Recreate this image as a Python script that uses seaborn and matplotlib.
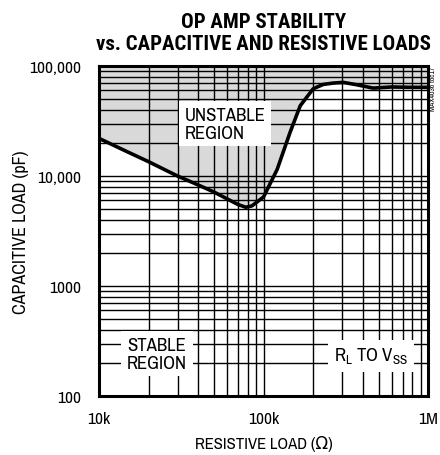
import matplotlib
matplotlib.use('Agg')
import matplotlib.pyplot as plt
import matplotlib.ticker as mticker
import pandas as pd
import seaborn as sns

# Данные
resistance = [10e3, 15e3, 20e3, 30e3, 40e3, 50e3, 60e3, 70e3, 78e3, 85e3, 100e3, 121e3,
              145e3, 167e3, 200e3, 230e3, 265e3, 305e3, 360e3, 463e3, 600e3, 800e3, 1e6]
capacitance = [22000, 16500, 13500, 10000, 8300, 7150, 6200, 5500, 5200, 5350, 6450, 11500,
               25000, 43500, 62000, 68000, 70000, 71000, 68000, 63000, 64500, 64000, 64000]
x_ticks = [1e4, 1e5, 1e6]
x_labels = ['10k', '100k', '1M']
y_ticks = [1e2, 1e3, 1e4, 1e5]
y_labels = ['100', '1000', '10,000', '100,000']

df = pd.DataFrame({'R': resistance, 'C': capacitance})

sns.set_style("white")
plt.rcParams['font.family'] = ['Archivo Narrow', 'DejaVu Sans']
plt.rcParams['text.color'] = 'black'
plt.rcParams['axes.labelcolor'] = 'black'
plt.rcParams['mathtext.fontset'] = 'custom'
plt.rcParams['mathtext.rm'] = 'Archivo Narrow'

fig = plt.figure(figsize=(4.4, 4.56), dpi=100)
ax = fig.add_axes([0.225, 0.1294, 0.748, 0.7236])

ax.fill_between(df['R'], df['C'], 1e5, color='#d9d9d9', zorder=1, linewidth=0)
sns.lineplot(data=df, x='R', y='C', color='black', linewidth=2.6, ax=ax, zorder=4)

ax.set_xscale('log')
ax.set_yscale('log')
ax.set_xlim(1e4, 1e6)
ax.set_ylim(1e2, 1e5)
ax.set_xticks(x_ticks)
ax.set_xticklabels(x_labels)
ax.set_yticks(y_ticks)
ax.set_yticklabels(y_labels)
ax.xaxis.set_minor_locator(mticker.LogLocator(base=10, subs=range(2, 10)))
ax.yaxis.set_minor_locator(mticker.LogLocator(base=10, subs=range(2, 10)))
ax.xaxis.set_minor_formatter(mticker.NullFormatter())
ax.yaxis.set_minor_formatter(mticker.NullFormatter())
ax.grid(True, which='both', color='black', linewidth=1.0, zorder=2)
ax.set_axisbelow(False)
ax.tick_params(which='both', length=0, labelsize=12.5, colors='black')
ax.tick_params(axis='y', pad=13)
ax.tick_params(axis='x', pad=11)
for s in ax.spines.values():
    s.set_linewidth(2.2)
    s.set_color('black')
    s.set_zorder(5)

ax.set_xlabel('RESISTIVE LOAD (Ω)', fontsize=12, labelpad=6)
ax.set_ylabel('CAPACITIVE LOAD (pF)', fontsize=13, labelpad=0)
ax.set_title('OP AMP STABILITY\nvs. CAPACITIVE AND RESISTIVE LOADS',
             fontsize=15, fontweight='bold', linespacing=1.2, pad=12,
             family=['Roboto Condensed', 'DejaVu Sans'])

box = dict(facecolor='white', edgecolor='none', pad=4)
ax.text(3.3e4, 3.0e4, 'UNSTABLE\nREGION', fontsize=13.5, ha='left', va='center',
        linespacing=1.15, bbox=box, zorder=3)
ax.text(2.25e4, 2.42e2, 'STABLE\nREGION', fontsize=13.5, ha='center', va='center',
        linespacing=1.15, bbox=box, zorder=3)
ax.text(4.5e5, 2.32e2, r'R$_{\mathregular{L}}$ TO V$_{\mathregular{SS}}$', fontsize=13.5,
        ha='center', va='center', bbox=box, zorder=3)

fig.text(0.983, 0.853, 'MAX4036 toc17', fontsize=5.5, rotation=90, ha='center', va='top')

fig.savefig('out.png', dpi=100)
